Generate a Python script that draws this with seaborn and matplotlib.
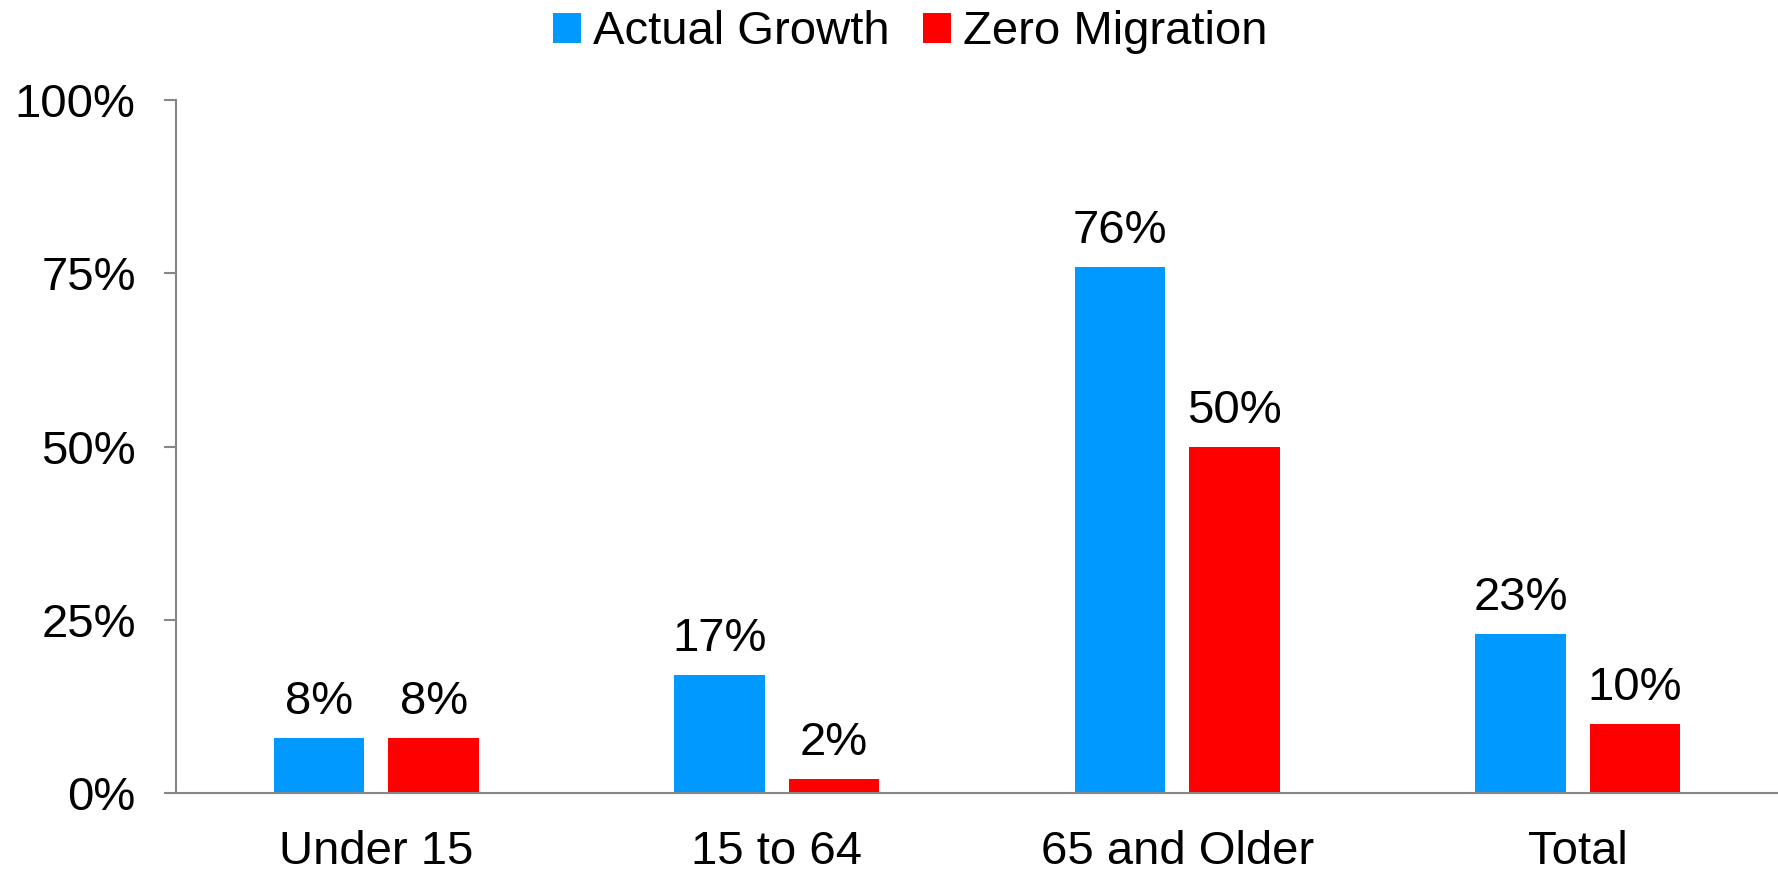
import pandas as pd
import matplotlib.pyplot as plt
import seaborn as sns

categorias = ['Under 15', '15 to 64', '65 and Older', 'Total']
actual_growth = [8, 17, 76, 23]
zero_migration = [8, 2, 50, 10]
series = ['Actual Growth', 'Zero Migration']
cores = ['#0099FF', '#FF0000']

df = pd.DataFrame({
    'grupo': categorias * 2,
    'valor': actual_growth + zero_migration,
    'serie': [series[0]] * 4 + [series[1]] * 4,
})

sns.set_theme(style='white')
plt.rcParams['font.family'] = ['Liberation Sans', 'DejaVu Sans']
plt.rcParams['text.color'] = 'black'

fs = 34

fig = plt.figure(figsize=(17.78, 8.72), dpi=100)
ax = fig.add_axes([0.099, 0.0906, 0.901, 0.7944])

sns.barplot(data=df, x='grupo', y='valor', hue='serie', palette=cores,
            width=0.573, gap=0.21, saturation=1, ax=ax, linewidth=0)

for c in ax.containers:
    ax.bar_label(c, labels=[f'{v:.0f}%' for v in c.datavalues],
                 padding=10, fontsize=fs, color='black')

ax.set_xlim(-0.5, 3.5)
ax.set_ylim(0, 100)
ax.set_yticks([0, 25, 50, 75, 100])
ax.set_yticklabels(['0%', '25%', '50%', '75%', '100%'])
ax.set_xlabel('')
ax.set_ylabel('')

for lado in ['top', 'right']:
    ax.spines[lado].set_visible(False)
for lado in ['left', 'bottom']:
    ax.spines[lado].set_color('#868686')
    ax.spines[lado].set_linewidth(1.5)

ax.tick_params(axis='y', which='major', left=True, length=9, width=1.5,
               color='#868686', pad=20, labelsize=fs, labelcolor='black')
ax.tick_params(axis='x', length=0, pad=27, labelsize=fs, labelcolor='black')

leg = ax.legend(loc='center', bbox_to_anchor=(0.512, 0.963), bbox_transform=fig.transFigure,
                ncol=2, frameon=False, fontsize=fs, handlelength=0.6, handleheight=0.6,
                handletextpad=0.25, columnspacing=0.7, borderaxespad=0)
for t in leg.get_texts():
    t.set_color('black')

fig.savefig('out.png', dpi=100)
